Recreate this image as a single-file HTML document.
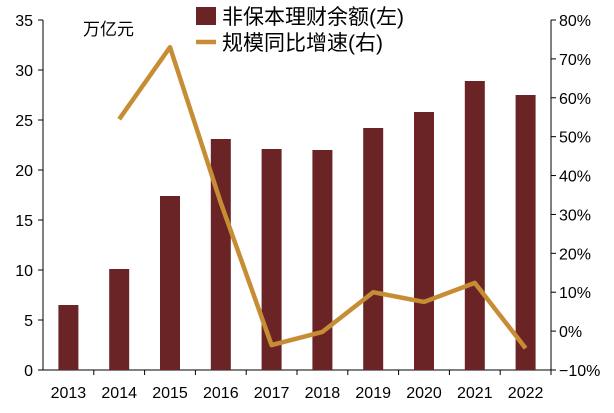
<!DOCTYPE html>
<html><head><meta charset="utf-8"><style>
body{margin:0;background:#fff}
svg text{font-family:"Liberation Sans","Noto Sans CJK SC",sans-serif;fill:#000}
</style></head><body>
<svg id="c" width="614" height="408"></svg>
<script>
const years=["2013","2014","2015","2016","2017","2018","2019","2020","2021","2022"];
const balance=[6.5,10.1,17.4,23.1,22.1,22.0,24.2,25.8,28.9,27.5];
const growth=[null,54.5,73.0,33.0,-3.6,-0.2,10.0,7.5,12.4,-4.4];
const leftTicks=[0,5,10,15,20,25,30,35];
const rightTicks=[-10,0,10,20,30,40,50,60,70,80];
const NS="http://www.w3.org/2000/svg";
const svg=document.getElementById('c');
function mk(t,a,p){const e=document.createElementNS(NS,t);for(const k in a)e.setAttribute(k,a[k]);(p||svg).appendChild(e);return e;}
const x0=43,x1=551,yB=370,yT=20;
const yL=v=>yB-(v/35)*(yB-yT);
const yR=v=>yB-((v+10)/90)*(yB-yT);
const step=(x1-x0)/years.length;
const xC=i=>x0+step*(i+0.5);
let e=mk('line',{x1:x0,y1:yT,x2:x0,y2:yB,stroke:'#000'});

e=mk('line',{x1:x1,y1:yT,x2:x1,y2:yB,stroke:'#000'});

e=mk('line',{x1:x0,y1:yB,x2:x1,y2:yB,stroke:'#000'});

leftTicks.forEach(v=>{const y=yL(v);mk('line',{x1:x0-5,y1:y,x2:x0,y2:y,stroke:'#000'});
 const t=mk('text',{x:x0-10,y:y+6,'text-anchor':'end','font-size':16});t.textContent=v;
 });
rightTicks.forEach(v=>{const y=yR(v);mk('line',{x1:x1,y1:y,x2:x1+5,y2:y,stroke:'#000'});
 const t=mk('text',{x:x1+8,y:y+6,'font-size':16});t.textContent=(v<0?'−':'')+Math.abs(v)+'%';
 });
years.forEach((yr,i)=>{const x=x0+step*(i+1);mk('line',{x1:x,y1:yB,x2:x,y2:yB+5,stroke:'#000'});
 const t=mk('text',{x:xC(i),y:yB+28,'text-anchor':'middle','font-size':16});t.textContent=yr;
 });
balance.forEach((v,i)=>{const r=mk('rect',{x:xC(i)-10,y:yL(v),width:20,height:yB-yL(v),fill:'#6b2426'});
 });
let pts=[];growth.forEach((v,i)=>{if(v!==null)pts.push(xC(i)+','+yR(v));});
e=mk('polyline',{points:pts.join(' '),fill:'none',stroke:'#c68d35','stroke-width':4.5,'stroke-linejoin':'round'});

e=mk('text',{x:83,y:35,'font-size':17});e.textContent='万亿元';

e=mk('rect',{x:196,y:7,width:20,height:18,fill:'#6b2426'});

e=mk('text',{x:222,y:24,'font-size':21});e.textContent='非保本理财余额(左)';

e=mk('line',{x1:196,y1:42,x2:216,y2:42,stroke:'#c68d35','stroke-width':4.5});

e=mk('text',{x:222,y:50,'font-size':21});e.textContent='规模同比增速(右)';

</script></body></html>
